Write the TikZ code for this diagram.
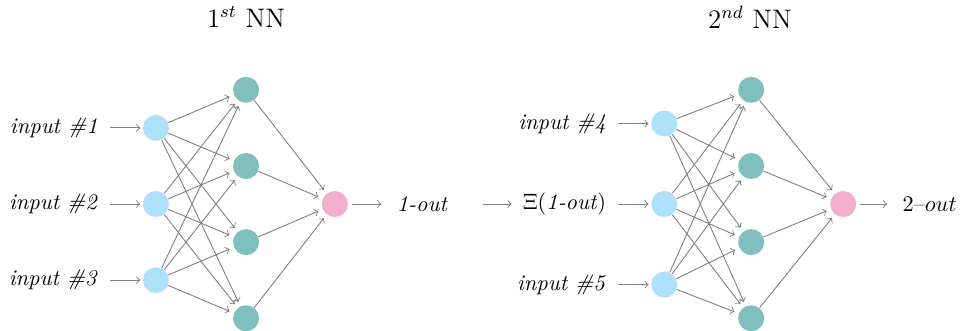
\documentclass[tikz,border=0pt]{standalone}
\usepackage{tikz}
\usetikzlibrary{positioning,calc}
\definecolor{inblue}{RGB}{173,224,250}
\definecolor{hidteal}{RGB}{127,191,189}
\definecolor{outpink}{RGB}{243,174,206}

\begin{document}
\begin{tikzpicture}[
    neuron/.style={circle,minimum size=0.41cm,inner sep=0pt},
    inneuron/.style={neuron,fill=inblue},
    hidneuron/.style={neuron,fill=hidteal},
    outneuron/.style={neuron,fill=outpink},
    edge/.style={->,draw=black!50,shorten >=2pt},
    feed/.style={->,draw=black!50,shorten <=2pt,shorten >=1pt},
    node distance=0.58cm
  ]
    \useasboundingbox (-3.877,-1.986) rectangle (11.25,3.215);

    % 1st network
    \node at (0,2.947) (t1) {\large $1^{st}$ NN};
    \foreach \y [count=\i] in {1.2,0,-1.2}
      \node[inneuron] (a\i) at (-1.42,\y) {};
    \foreach \y [count=\i] in {1.8,0.6,-0.6,-1.8}
      \node[hidneuron] (h\i) at (0,\y) {};
    \node[outneuron] (o) at (1.4,0) {};

    \foreach \i in {1,2,3}
      \foreach \j in {1,...,4}
        \draw[edge] (a\i) -- (h\j);
    \foreach \j in {1,...,4}
      \draw[edge] (h\j) -- (o);

    \node[left=of a1] (la1) {\textit{input \#1}};
    \node[left=of a2] (la2) {\textit{input \#2}};
    \node[left=of a3] (la3) {\textit{input \#3}};
    \foreach \i in {1,2,3}
      \draw[feed] (la\i) -- (a\i);
    \node[right=0.64cm of o] (lo) {\textit{1-out}};
    \draw[feed,shorten <=1.7pt,shorten >=3.4pt] (o) -- (lo);

    % 2nd network
    \node at (7.94,2.947) (t2) {\large $2^{nd}$ NN};
    \foreach \y [count=\i] in {1.27,0,-1.27}
      \node[inneuron] (b\i) at (6.59,\y) {};
    \foreach \y [count=\i] in {1.8,0.6,-0.6,-1.8}
      \node[hidneuron] (k\i) at (7.96,\y) {};
    \node[outneuron] (p) at (9.41,0) {};

    \foreach \i in {1,2,3}
      \foreach \j in {1,...,4}
        \draw[edge] (b\i) -- (k\j);
    \foreach \j in {1,...,4}
      \draw[edge] (k\j) -- (p);

    \node[left=of b1] (lb1) {\textit{input \#4}};
    \node[left=of b2] (lb2) {$\Xi$(\textit{1-out})};
    \node[left=of b3] (lb3) {\textit{input \#5}};
    \foreach \i in {1,2,3}
      \draw[feed] (lb\i) -- (b\i);
    \coordinate (x0) at (3.66,0);
    \draw[feed,shorten >=1.5pt] (x0) -- (lb2);
    \node[right=0.6cm of p] (lp) {2--$out$};
    \draw[feed,shorten <=1.7pt,shorten >=3.4pt] (p) -- (lp);
\end{tikzpicture}
\end{document}
